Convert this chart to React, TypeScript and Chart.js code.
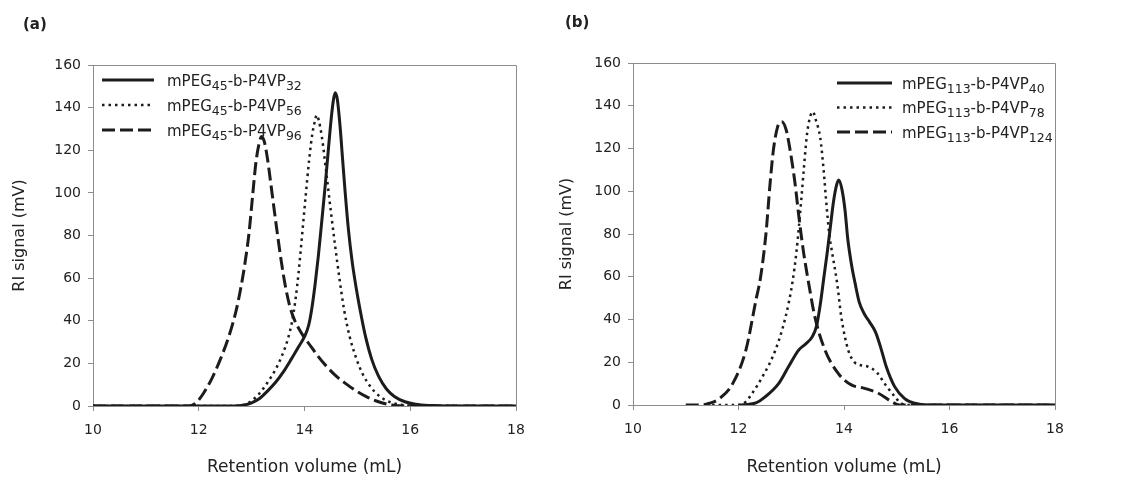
import React, { useEffect, useRef } from 'react';
import { Chart, registerables } from 'chart.js';

Chart.register(...registerables);

type Pt = [number, number];

// ---------- text ----------
const PANEL_A_LABEL = '(a)';
const PANEL_B_LABEL = '(b)';
const X_TITLE = 'Retention volume (mL)';
const Y_TITLE = 'RI signal (mV)';

// ---------- axes ----------
const X_MIN = 10;
const X_MAX = 18;
const X_STEP = 2;
const Y_MIN = 0;
const Y_MAX = 160;
const Y_STEP = 20;

// ---------- legend names: [main, sub, main, sub] ----------
const A_NAMES = [
  ['mPEG', '45', '-b-P4VP', '32'],
  ['mPEG', '45', '-b-P4VP', '56'],
  ['mPEG', '45', '-b-P4VP', '96'],
];
const B_NAMES = [
  ['mPEG', '113', '-b-P4VP', '40'],
  ['mPEG', '113', '-b-P4VP', '78'],
  ['mPEG', '113', '-b-P4VP', '124'],
];

// ---------- panel (a) data: [retention volume, RI signal] ----------
const A_32: Pt[] = [
  [10, 0], [12.6, 0], [12.85, 0.4], [13.0, 1.5], [13.15, 3.5], [13.3, 7], [13.45, 11], [13.6, 16],
  [13.75, 22], [13.88, 27.5], [14.0, 32.5], [14.08, 38], [14.14, 46], [14.2, 57], [14.26, 70],
  [14.32, 85], [14.39, 103], [14.45, 120], [14.51, 136], [14.55, 144], [14.58, 147], [14.62, 144],
  [14.67, 132], [14.72, 116], [14.77, 100], [14.83, 83], [14.9, 68], [14.98, 55], [15.06, 44],
  [15.15, 33], [15.27, 22], [15.4, 14], [15.55, 8], [15.7, 4.5], [15.9, 2], [16.1, 0.8],
  [16.4, 0.2], [16.7, 0], [18, 0],
];
const A_56: Pt[] = [
  [10, 0], [12.6, 0], [12.84, 0.5], [13.0, 2.5], [13.15, 6], [13.3, 11], [13.45, 17], [13.58, 24],
  [13.68, 31], [13.76, 39], [13.83, 50], [13.89, 63], [13.95, 79], [14.02, 98], [14.09, 116],
  [14.15, 128], [14.2, 134], [14.23, 136.5], [14.27, 134], [14.33, 126], [14.41, 110], [14.5, 91],
  [14.58, 75], [14.66, 60], [14.75, 45], [14.85, 33], [14.97, 23], [15.1, 15], [15.25, 9],
  [15.4, 5], [15.6, 2], [15.85, 0.5], [16.1, 0], [18, 0],
];
const A_96: Pt[] = [
  [10, 0], [11.8, 0], [11.95, 1.5], [12.09, 6], [12.25, 13], [12.41, 22], [12.56, 32], [12.7, 44],
  [12.8, 56], [12.88, 68], [12.95, 81], [13.02, 99], [13.08, 114], [13.14, 123], [13.19, 126.5],
  [13.24, 124], [13.3, 116], [13.38, 101], [13.47, 84], [13.56, 68], [13.64, 56], [13.72, 47],
  [13.8, 41], [13.9, 36], [14.0, 32], [14.12, 28], [14.25, 23.5], [14.42, 18.5], [14.6, 14],
  [14.78, 10.5], [14.95, 7.5], [15.16, 4.5], [15.4, 2], [15.65, 0.5], [15.9, 0], [18, 0],
];

// ---------- panel (b) data ----------
const B_40: Pt[] = [
  [12.0, 0], [12.33, 1], [12.51, 3.9], [12.76, 10], [12.95, 18], [13.14, 25.7], [13.27, 28.5],
  [13.4, 32], [13.48, 37], [13.55, 47], [13.62, 60], [13.68, 71], [13.74, 83], [13.8, 95],
  [13.86, 103], [13.9, 105.3], [13.96, 101], [14.02, 91], [14.07, 78], [14.14, 66], [14.21, 57],
  [14.29, 48], [14.4, 42], [14.48, 39], [14.6, 34], [14.71, 25.7], [14.8, 18], [14.96, 8.6],
  [15.15, 3], [15.34, 0.8], [15.6, 0], [18, 0],
];
const B_78: Pt[] = [
  [11.5, 0], [12.0, 0], [12.14, 1.6], [12.26, 5.5], [12.45, 13], [12.7, 25.7], [12.89, 41],
  [13.02, 57], [13.1, 72], [13.19, 96], [13.24, 111], [13.3, 127], [13.36, 135], [13.41, 137.2],
  [13.47, 133], [13.55, 125], [13.61, 111], [13.66, 96], [13.72, 80], [13.77, 72], [13.87, 57],
  [13.95, 41], [14.08, 25.7], [14.2, 20], [14.3, 18.7], [14.45, 18], [14.63, 15], [14.77, 10],
  [14.96, 4], [15.08, 0.8], [15.25, 0], [18, 0],
];
const B_124: Pt[] = [
  [11.0, 0], [11.3, 0], [11.45, 0.8], [11.64, 3], [11.89, 10], [12.14, 25.7], [12.33, 49],
  [12.42, 60], [12.52, 80], [12.6, 104], [12.66, 119], [12.74, 130], [12.82, 132.5], [12.9, 129],
  [12.98, 119], [13.07, 104], [13.15, 87], [13.23, 72], [13.33, 57], [13.45, 41], [13.64, 25.7],
  [13.89, 14.8], [14.14, 9.4], [14.39, 7.8], [14.65, 5.5], [14.9, 1.6], [15.05, 0], [18, 0],
];

// ---------- styles ----------
const FAMILY = '"DejaVu Sans", "Liberation Sans", Arial, sans-serif';
const INK = '#1c1c1c';
const TEXT = '#222222';
const FRAME = '#8c8c8c';
const LINE_STYLES = [
  { width: 3, dash: [] as number[] },
  { width: 2.5, dash: [2.5, 4] },
  { width: 3, dash: [13, 5] },
];

const SUB_DIGITS = '₀₁₂₃₄₅₆₇₈₉';
const toSub = (s: string) => s.replace(/[0-9]/g, (d) => SUB_DIGITS[Number(d)]);
const joinName = (parts: string[]) => parts.map((p, k) => (k % 2 === 1 ? toSub(p) : p)).join('');

interface PanelCfg {
  label: string;
  labelX: number;
  labelY: number;
  series: Pt[][];
  names: string[][];
  yAxisWidth: number;
  xAxisHeight: number;
  padTop: number;
  padRight: number;
  yTitleOffset: number;
  legend: { lineX0: number; lineX1: number; textX: number; rowY: number; rowGap: number };
}

const PANEL_A: PanelCfg = {
  label: PANEL_A_LABEL,
  labelX: 23,
  labelY: 25,
  series: [A_32, A_56, A_96],
  names: A_NAMES,
  yAxisWidth: 93,
  xAxisHeight: 72,
  padTop: 65,
  padRight: 29,
  yTitleOffset: 10,
  legend: { lineX0: 9, lineX1: 61, textX: 74, rowY: 15, rowGap: 25 },
};

const PANEL_B: PanelCfg = {
  label: PANEL_B_LABEL,
  labelX: 20,
  labelY: 23,
  series: [B_40, B_78, B_124],
  names: B_NAMES,
  yAxisWidth: 88,
  xAxisHeight: 73,
  padTop: 63,
  padRight: 69,
  yTitleOffset: 12,
  legend: { lineX0: 204, lineX1: 259, textX: 269, rowY: 20, rowGap: 24.5 },
};

function makeOverlay(cfg: PanelCfg) {
  return {
    id: 'panelOverlay',
    beforeDatasetsDraw(chart: any) {
      const { ctx, chartArea } = chart;
      const { left, top, right, bottom } = chartArea;
      ctx.save();
      ctx.strokeStyle = FRAME;
      ctx.lineWidth = 1;
      ctx.setLineDash([]);
      ctx.beginPath();
      ctx.moveTo(Math.round(left), Math.round(top) + 0.5);
      ctx.lineTo(Math.round(right) + 0.5, Math.round(top) + 0.5);
      ctx.lineTo(Math.round(right) + 0.5, Math.round(bottom));
      ctx.stroke();
      ctx.restore();
    },
    afterDraw(chart: any) {
      const { ctx, chartArea } = chart;
      const { left, top } = chartArea;
      ctx.save();
      // panel label
      ctx.fillStyle = TEXT;
      ctx.font = `bold 15px ${FAMILY}`;
      ctx.textAlign = 'left';
      ctx.textBaseline = 'middle';
      ctx.fillText(cfg.label, cfg.labelX, cfg.labelY);
      // legend
      const lg = cfg.legend;
      chart.data.datasets.forEach((ds: any, i: number) => {
        const y = top + lg.rowY + i * lg.rowGap;
        ctx.strokeStyle = ds.borderColor;
        ctx.lineWidth = ds.borderWidth;
        ctx.setLineDash(ds.borderDash || []);
        ctx.lineCap = 'butt';
        ctx.beginPath();
        ctx.moveTo(left + lg.lineX0, y);
        ctx.lineTo(left + lg.lineX1, y);
        ctx.stroke();
        ctx.setLineDash([]);
        let x = left + lg.textX;
        ctx.fillStyle = TEXT;
        ctx.textBaseline = 'alphabetic';
        cfg.names[i].forEach((part, k) => {
          const sub = k % 2 === 1;
          ctx.font = sub ? `12.5px ${FAMILY}` : `15px ${FAMILY}`;
          ctx.fillText(part, x, y + (sub ? 9.5 : 5.5));
          x += ctx.measureText(part).width;
        });
      });
      ctx.restore();
    },
  };
}

function buildConfig(cfg: PanelCfg): any {
  return {
    type: 'line',
    data: {
      datasets: cfg.series.map((pts, i) => ({
        label: joinName(cfg.names[i]),
        data: pts.map(([x, y]) => ({ x, y })),
        borderColor: INK,
        borderWidth: LINE_STYLES[i].width,
        borderDash: LINE_STYLES[i].dash,
        pointRadius: 0,
        fill: false,
        cubicInterpolationMode: 'monotone',
      })),
    },
    options: {
      animation: false,
      responsive: false,
      devicePixelRatio: 1,
      layout: { padding: { top: cfg.padTop, right: cfg.padRight, left: 0, bottom: 0 } },
      plugins: {
        legend: { display: false },
        title: { display: false },
        tooltip: { enabled: false },
      },
      scales: {
        x: {
          type: 'linear',
          min: X_MIN,
          max: X_MAX,
          ticks: {
            stepSize: X_STEP,
            maxRotation: 0,
            padding: 11,
            color: TEXT,
            font: { family: FAMILY, size: 14 },
          },
          grid: { display: true, drawOnChartArea: false, drawTicks: true, tickLength: 5, color: FRAME },
          border: { display: true, color: FRAME, width: 1 },
          title: {
            display: true,
            text: X_TITLE,
            color: TEXT,
            font: { family: FAMILY, size: 17 },
            padding: { top: 0, bottom: 0 },
          },
          afterFit: (s: any) => {
            s.height = cfg.xAxisHeight;
          },
        },
        y: {
          type: 'linear',
          min: Y_MIN,
          max: Y_MAX,
          ticks: {
            stepSize: Y_STEP,
            padding: 7,
            color: TEXT,
            font: { family: FAMILY, size: 14 },
          },
          grid: { display: true, drawOnChartArea: false, drawTicks: true, tickLength: 5, color: FRAME },
          border: { display: true, color: FRAME, width: 1 },
          title: {
            display: true,
            text: Y_TITLE,
            color: TEXT,
            font: { family: FAMILY, size: 16 },
            padding: { top: cfg.yTitleOffset, bottom: 0 },
          },
          afterFit: (s: any) => {
            s.width = cfg.yAxisWidth;
          },
        },
      },
    },
    plugins: [makeOverlay(cfg)],
  };
}

export default function App() {
  const refA = useRef<HTMLCanvasElement>(null);
  const refB = useRef<HTMLCanvasElement>(null);

  useEffect(() => {
    const ca = new Chart(refA.current as HTMLCanvasElement, buildConfig(PANEL_A));
    const cb = new Chart(refB.current as HTMLCanvasElement, buildConfig(PANEL_B));
    return () => {
      ca.destroy();
      cb.destroy();
    };
  }, []);

  return (
    <div style={{ position: 'fixed', left: 0, top: 0, width: 1124, height: 478, background: '#ffffff' }}>
      <canvas ref={refA} width={545} height={478} style={{ position: 'absolute', left: 0, top: 0 }} />
      <canvas ref={refB} width={579} height={478} style={{ position: 'absolute', left: 545, top: 0 }} />
    </div>
  );
}
